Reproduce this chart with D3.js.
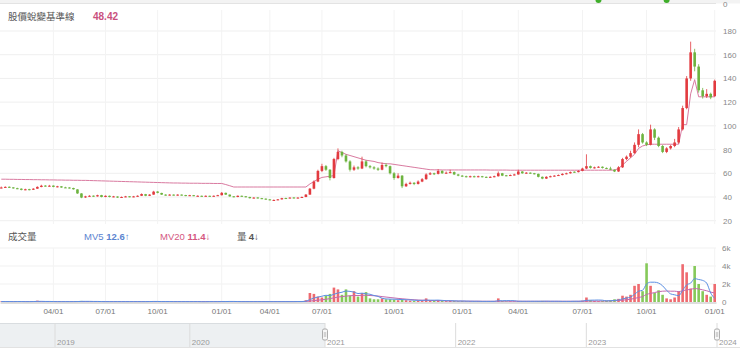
<!DOCTYPE html>
<html><head><meta charset="utf-8">
<script src="https://cdn.jsdelivr.net/npm/d3@7"></script>
<style>
html,body{margin:0;padding:0;background:#fff;}
svg{display:block;font-family:"Liberation Sans","Noto Sans CJK TC",Arial,sans-serif;}
</style></head><body>
<svg id="c" width="740" height="357"></svg>
<script>
const openP = [
47.5,48,48.6,48.1,47.4,47,46,46.6,46.1,47,
48.4,49.6,49,49.6,48.5,49,48.1,48,47.6,46.4,
43,39.6,40.4,41.1,40.5,41.6,40,41,40.1,40.4,
39.5,40,40.6,40,40.5,41,42.4,41,42,44.6,
43.4,42,41.5,42,41.4,42,41.6,41,41.5,40.8,
41,40.5,41,40.5,41,41.5,43.5,42,40.6,40,
41,40.6,40,39,39.6,39,38.6,38,37.4,37.5,
38,39.1,39,39.6,39,39.5,40,42,47,53,
62,66,63,56,72,78,75,70,63,65,
64,70,66,65,64,63,67,66,60,56,
58,49,51,52,51,53,55,59,60,59.5,
62,60,60.5,61,59,58,57.5,57,57.5,57,
57.5,57,56.5,57,57.5,60,58.3,58,58.5,59,
61.5,60,60.5,60,59.5,57,55.5,57,57.5,58,
58.5,59.5,60,61.3,61,62,64,66,64.5,65,
65.5,64.5,64,63,61.5,65,72,74,77,84,
93,86,84,97,90,83,78,81,83,86,
97,115,140,162,150,130,125,127,125];
const closeP = [
48,48.5,48,47.5,47,46,46.5,46,47,48.5,
49.5,49,49.5,48.5,49,48,48,47.5,46.5,43,
39.5,40.5,41,40.5,41.5,40,41,40,40.5,39.5,
40,40.5,40,40.5,41,42.5,41,42,44.5,43.5,
42,41.5,42,41.5,42,41.5,41,41.5,41,41,
40.5,41,40.5,41,41.5,43.5,42,40.5,40,41,
40.5,40,39,39.5,39,38.5,38,37.5,37.5,38,
39,39,39.5,39,39.5,40,42,47,53,62,
66,63,56,72,78,75,70,63,65,64,
70,66,65,64,63,67,66,60,56,58,
49,51,52,51,53,55,59,60,59.5,62,
60,60.5,61,59,58,57.5,57,57.5,57,57.5,
57,56.5,57,57.5,60,58,58,58.5,59,61.5,
60,60.5,60,59.5,57,55.5,57,57.5,58,58.5,
59.5,60,61,61,62,64,66,64.5,65,65.5,
64.5,64,63,61.5,65,72,74,77,84,93,
86,84,97,90,83,78,81,83,86,97,
115,140,162,150,130,125,127,124,138];
const highP = [
48.8,49,48.9,48.3,47.8,47.3,47,46.9,47.4,49,
50.3,50,50.2,49.8,49.4,49.2,48.6,48.3,47.8,46.6,
43.2,41,41.5,41.3,41.9,41.8,41.3,41.2,40.9,40.6,
40.4,40.9,40.8,40.9,41.4,43,42.6,42.4,45.2,44.9,
43.6,42.3,42.4,42.2,42.3,42.2,41.8,41.8,41.7,41.4,
41.2,41.3,41.1,41.3,41.8,44.2,43.7,42.1,40.8,41.3,
41.2,40.8,40.2,39.8,39.8,39.2,38.8,38.2,37.9,38.3,
39.3,39.4,39.8,39.8,39.8,40.4,42.5,47.6,54,63,
68,67,63.5,73,81,79,76,71,66.5,66,
74,71,67,66,65,69,68.5,66.5,61,60,
58.5,52,53,52.5,54,56,60,61,60.5,63.5,
62.5,61.5,63,61.5,59.5,58.5,58,58,58,58,
57.8,57.3,57.5,58,61.5,60.3,58.6,59,59.6,63,
61.8,61,60.8,60.3,59.7,57.3,57.5,58,58.4,59,
60,60.5,61.5,61.6,62.6,64.7,76,66.5,65.6,66,
65.8,64.9,65.5,63.3,66,73,75,79,86,97,
94,87,101,98,91,84,82,84,89,99,
117,142,171,165,152,132,131,128,139];
const lowP = [
47.2,47.6,47.6,47,46.6,45.6,45.7,45.6,45.9,46.8,
48.2,48.6,48.7,48.2,48.1,47.7,47.6,47.1,46.2,42.6,
39,39.2,40.1,40.1,40.3,39.7,39.8,39.7,39.8,39.2,
39.2,39.8,39.7,39.8,40.2,40.8,40.7,40.8,41.8,43.1,
41.7,41.1,41.2,41.2,41.1,41.2,40.7,40.8,40.7,40.6,
40.2,40.3,40.2,40.3,40.8,41.3,41.7,40.2,39.7,39.8,
40.2,39.7,38.7,38.8,38.7,38.2,37.7,37.2,37.1,37.3,
37.8,38.7,38.8,38.7,38.8,39.3,39.8,41.8,46.5,52.5,
61,62,54,55.5,71,73.5,69,61.5,62,63,
63.5,65,64,63,62,62.5,65,59,54.5,55.5,
47.5,48.5,50.5,50,50.5,52.5,54.5,58.5,58.5,59,
59.5,59.5,60,58.5,57.5,57,56.5,56.5,56.5,56.6,
56.5,56,56.1,56.6,57.2,57.6,57.5,57.7,58.1,58.8,
59.6,59.6,59.5,59,56.5,55,55.2,56.6,57.2,57.7,
58.2,59.1,59.7,60.4,60.7,61.7,63.5,64,64,64.6,
64,63.5,62.6,61,61.2,64.5,71,73,76.5,82,
85,83,83.5,88,82,77,77,80,82,85,
96,114,138,146,128,123,123.5,122.5,124.5];
const baseline = [
55,55,54.9,54.9,54.8,54.8,54.7,54.7,54.6,54.6,
54.5,54.5,54.4,54.4,54.3,54.3,54.2,54.2,54.1,54.1,
54,54,53.9,53.8,53.7,53.6,53.5,53.4,53.3,53.2,
53.1,53,52.9,52.8,52.7,52.6,52.5,52.4,52.3,52.2,
52.1,52,51.9,51.8,51.8,51.7,51.7,51.6,51.6,51.6,
51.5,51.5,51.5,51.4,51.4,51.4,50.5,49.5,48.42,48.42,
48.42,48.42,48.42,48.42,48.42,48.42,48.42,48.42,48.42,48.42,
48.42,48.42,48.42,48.42,48.42,48.42,48.42,51,53,55,
56.5,57,57.5,58,79,77.5,76,75,74,73,
72,71,70.5,70,69,68.5,68,68,67.5,67,
66.5,66,65.5,65,64.5,64,63.5,63,62.9,62.9,
62.8,62.8,62.8,62.8,62.8,62.8,62.8,62.8,62.8,62.8,
62.8,62.8,62.7,62.7,62.7,62.7,62.7,62.6,62.6,62.6,
62.6,62.6,62.6,62.6,62.6,62.6,62.6,62.6,62.6,62.6,
62.6,62.6,62.6,62.6,62.6,62.6,62.6,62.6,62.6,62.6,
62.6,62.6,62.6,62.7,64,67,70,73,76,81,
83,84,84.5,84.5,84.5,84.5,84.5,84.5,84.5,84.5,
101,101,127,139,124.5,124.5,124.5,124.5,124.5];
const volume = [
0.05,0.04,0.06,0.03,0.05,0.04,0.05,0.03,0.08,0.15,
0.06,0.04,0.05,0.03,0.04,0.05,0.03,0.04,0.05,0.1,
0.12,0.06,0.04,0.03,0.05,0.04,0.03,0.04,0.03,0.04,
0.03,0.04,0.03,0.04,0.05,0.06,0.04,0.05,0.08,0.05,
0.04,0.03,0.04,0.03,0.04,0.03,0.04,0.03,0.04,0.03,
0.03,0.04,0.03,0.04,0.05,0.09,0.06,0.05,0.04,0.04,
0.03,0.04,0.05,0.04,0.03,0.04,0.05,0.04,0.03,0.04,
0.05,0.04,0.05,0.04,0.06,0.08,0.2,1.0,0.9,0.6,
0.5,0.7,0.9,1.6,1.4,0.8,1.4,0.7,1.2,0.6,
1.0,1.1,0.4,0.3,0.3,0.4,0.3,0.3,0.25,0.2,
0.3,0.2,0.15,0.12,0.15,0.2,0.4,0.15,0.12,0.2,
0.12,0.1,0.15,0.1,0.08,0.1,0.07,0.08,0.07,0.08,
0.07,0.06,0.07,0.08,0.4,0.1,0.07,0.08,0.07,0.1,
0.08,0.07,0.06,0.07,0.1,0.12,0.08,0.07,0.06,0.07,
0.08,0.07,0.08,0.09,0.1,0.15,0.5,0.2,0.12,0.1,
0.12,0.15,0.2,0.3,0.35,0.7,0.6,0.8,1.8,2.0,
1.2,4.3,1.8,1.0,1.3,0.8,0.4,0.3,0.5,1.2,
4.2,3.3,1.5,4.0,2.0,1.2,0.8,0.6,2.0];
const mv5 = [
0.05,0.05,0.05,0.04,0.05,0.05,0.04,0.04,0.05,0.07,
0.07,0.06,0.06,0.05,0.04,0.04,0.04,0.04,0.04,0.05,
0.07,0.07,0.07,0.06,0.06,0.05,0.04,0.04,0.04,0.04,
0.04,0.04,0.04,0.04,0.04,0.04,0.04,0.05,0.06,0.06,
0.05,0.05,0.05,0.04,0.04,0.04,0.04,0.04,0.04,0.04,
0.03,0.03,0.04,0.04,0.04,0.05,0.05,0.06,0.06,0.05,
0.04,0.04,0.04,0.04,0.04,0.04,0.04,0.04,0.04,0.04,
0.04,0.04,0.04,0.04,0.05,0.05,0.09,0.27,0.44,0.55,
0.64,0.74,0.72,0.86,1.0,1.08,1.22,1.18,1.1,0.94,
0.98,0.92,0.86,0.72,0.62,0.42,0.34,0.32,0.31,0.29,
0.27,0.25,0.23,0.2,0.18,0.18,0.2,0.2,0.2,0.21,
0.18,0.15,0.14,0.13,0.11,0.11,0.1,0.09,0.08,0.08,
0.07,0.07,0.07,0.07,0.14,0.14,0.15,0.15,0.14,0.08,
0.08,0.08,0.08,0.08,0.08,0.08,0.09,0.08,0.08,0.08,
0.07,0.07,0.07,0.08,0.08,0.1,0.18,0.2,0.21,0.22,
0.2,0.13,0.14,0.18,0.22,0.35,0.44,0.55,0.85,1.2,
1.3,2.0,2.2,2.2,2.1,1.8,1.3,0.9,0.8,0.7,
1.3,1.9,2.1,2.6,2.5,2.4,2.1,1.0,0.4];
const mv20 = [
0.05,0.05,0.05,0.05,0.05,0.05,0.05,0.05,0.05,0.05,
0.05,0.05,0.05,0.05,0.05,0.05,0.05,0.05,0.05,0.05,
0.05,0.05,0.05,0.05,0.05,0.05,0.05,0.05,0.05,0.05,
0.05,0.05,0.05,0.05,0.05,0.05,0.05,0.05,0.05,0.05,
0.05,0.05,0.05,0.05,0.05,0.05,0.05,0.05,0.05,0.05,
0.05,0.05,0.05,0.05,0.05,0.05,0.05,0.05,0.05,0.05,
0.05,0.05,0.05,0.05,0.05,0.05,0.05,0.05,0.05,0.05,
0.05,0.05,0.05,0.05,0.05,0.05,0.06,0.1,0.15,0.2,
0.25,0.3,0.38,0.46,0.55,0.6,0.65,0.7,0.72,0.72,
0.74,0.75,0.72,0.7,0.66,0.6,0.55,0.5,0.45,0.4,
0.36,0.32,0.28,0.25,0.22,0.2,0.2,0.17,0.16,0.15,
0.14,0.13,0.12,0.11,0.1,0.1,0.09,0.09,0.09,0.09,
0.08,0.08,0.08,0.08,0.09,0.09,0.09,0.09,0.09,0.09,
0.08,0.08,0.08,0.08,0.08,0.08,0.08,0.08,0.08,0.08,
0.08,0.08,0.08,0.08,0.08,0.08,0.09,0.1,0.1,0.1,
0.1,0.11,0.12,0.14,0.16,0.2,0.25,0.3,0.4,0.5,
0.6,0.85,0.95,1.05,1.15,1.2,1.22,1.2,1.2,1.15,
1.25,1.35,1.4,1.5,1.45,1.35,1.25,1.1,1.0];
const tickIdx = [13,26,39,55,67,80,98,115,129,145,161,178];
const tickLabels = ["04/01","07/01","10/01","01/01","04/01","07/01","10/01","01/01","04/01","07/01","10/01","01/01"];
const priceTicks = [20,40,60,80,100,120,140,160,180];
const volTicks = [0,2,4,6];
const signalIdx = [149,166];
const navYears = [2019,2020,2021,2022,2023,2024];
const navSel = [2021,2024];

const UP="#e23a3f", DOWN="#6db33f";
const svg=d3.select("#c");
const N=closeP.length;
const x=d3.scaleBand().domain(d3.range(N)).range([0,716]).paddingInner(0.35);
const cx=i=>x(i)+x.bandwidth()/2;
const yP=d3.scaleLinear().domain([20,180]).range([220.7,31]);
const yV=d3.scaleLinear().domain([0,6]).range([302,248]);
const yT=d3.scaleLinear().domain([0,1]).range([3.5,-20]);

// top strip
svg.append("rect").attr("x",0).attr("y",0).attr("width",740).attr("height",3.5).attr("fill","#f3f3f3");
svg.append("line").attr("x1",0).attr("x2",716).attr("y1",yT(0)).attr("y2",yT(0)).attr("stroke","#e3e3e3");
svg.selectAll(".sig").data(signalIdx).join("circle").attr("cx",d=>cx(d)).attr("cy",yT(0.15)).attr("r",3).attr("fill","#3fae2a");
const ta=svg.append("g").attr("transform","translate(723,0)").call(d3.axisRight(yT).tickValues([0]).tickFormat(d3.format("d")).tickSize(0).tickPadding(0));
ta.select(".domain").remove();
ta.selectAll("text").attr("font-size",8).attr("fill","#888").attr("font-family","Liberation Sans");

// grids
svg.append("g").selectAll("line").data(priceTicks).join("line")
  .attr("x1",0).attr("x2",716).attr("y1",d=>yP(d)).attr("y2",d=>yP(d)).attr("stroke","#efefef");
svg.append("g").selectAll("line").data(tickIdx).join("line")
  .attr("x1",d=>cx(d)).attr("x2",d=>cx(d)).attr("y1",10).attr("y2",224).attr("stroke","#f3f3f3");
svg.append("g").selectAll("line").data(volTicks.slice(1)).join("line")
  .attr("x1",0).attr("x2",716).attr("y1",d=>yV(d)).attr("y2",d=>yV(d)).attr("stroke","#f1f1f1");
svg.append("g").selectAll("line").data(tickIdx).join("line")
  .attr("x1",d=>cx(d)).attr("x2",d=>cx(d)).attr("y1",yV(6)).attr("y2",yV(0)).attr("stroke","#f3f3f3");

// price axis
const pa=svg.append("g").attr("transform","translate(723,0)").call(d3.axisRight(yP).tickValues(priceTicks).tickSize(0).tickPadding(0));
pa.select(".domain").remove();
pa.selectAll("text").attr("font-size",8).attr("fill","#888").attr("font-family","Liberation Sans");

// baseline line
svg.append("path").datum(baseline).attr("fill","none").attr("stroke","#d97aa0").attr("stroke-width",1)
  .attr("d",d3.line().x((d,i)=>cx(i)).y(d=>yP(d)));

// candles
const cg=svg.append("g");
const idx=d3.range(N);
cg.selectAll("line").data(idx).join("line")
  .attr("x1",cx).attr("x2",cx).attr("y1",i=>yP(highP[i])).attr("y2",i=>yP(lowP[i]))
  .attr("stroke",i=>closeP[i]>=openP[i]?UP:DOWN).attr("stroke-width",0.8);
cg.selectAll("rect").data(idx).join("rect")
  .attr("x",i=>x(i)).attr("width",x.bandwidth())
  .attr("y",i=>yP(Math.max(openP[i],closeP[i])))
  .attr("height",i=>Math.max(1,Math.abs(yP(openP[i])-yP(closeP[i]))))
  .attr("fill",i=>closeP[i]>=openP[i]?UP:DOWN);

// volume
svg.append("g").selectAll("rect").data(idx).join("rect")
  .attr("x",i=>x(i)).attr("width",x.bandwidth())
  .attr("y",i=>yV(volume[i])).attr("height",i=>yV(0)-yV(volume[i]))
  .attr("fill",i=>closeP[i]>=openP[i]?"#ee6a6f":"#86c95a");
svg.append("path").datum(mv20).attr("fill","none").attr("stroke","#c46aae").attr("stroke-width",1)
  .attr("d",d3.line().x((d,i)=>cx(i)).y(d=>yV(d)).curve(d3.curveMonotoneX));
svg.append("path").datum(mv5).attr("fill","none").attr("stroke","#5b8fe3").attr("stroke-width",1)
  .attr("d",d3.line().x((d,i)=>cx(i)).y(d=>yV(d)).curve(d3.curveMonotoneX));
const va=svg.append("g").attr("transform","translate(722,0)").call(d3.axisRight(yV).tickValues(volTicks).tickSize(0).tickPadding(0).tickFormat(d=>d===0?"0":d+"k"));
va.select(".domain").remove();
va.selectAll("text").attr("font-size",8).attr("fill","#888").attr("font-family","Liberation Sans");

// x axis
const xa=svg.append("g").attr("transform",`translate(0,${yV(0)+0.5})`)
  .call(d3.axisBottom(x).tickValues(tickIdx).tickFormat((d,i)=>tickLabels[i]).tickSize(0).tickSizeOuter(0).tickPadding(6));
xa.select(".domain").attr("stroke","#bdbdbd");
xa.selectAll("text").attr("font-size",8).attr("fill","#777").attr("font-family","Liberation Sans");

// legends
const lg=svg.append("text").attr("x",8).attr("y",20).attr("font-size",9.5).attr("fill","#555");
lg.append("tspan").attr("font-family","Noto Sans CJK TC").text("股價蛻變基準線");
svg.append("text").attr("x",93).attr("y",20).attr("font-size",10).attr("fill","#c9507e").attr("font-weight","bold").text("48.42");

const vl=svg.append("g").attr("font-size",9.5);
vl.append("text").attr("x",8).attr("y",240).attr("fill","#555").attr("font-family","Noto Sans CJK TC").text("成交量");
const t1=vl.append("text").attr("x",84).attr("y",240).attr("fill","#5b84d0");
t1.append("tspan").text("MV5 ");t1.append("tspan").attr("font-weight","bold").text("12.6");t1.append("tspan").text("↑");
const t2=vl.append("text").attr("x",160).attr("y",240).attr("fill","#d4577f");
t2.append("tspan").text("MV20 ");t2.append("tspan").attr("font-weight","bold").text("11.4");t2.append("tspan").text("↓");
const t3=vl.append("text").attr("x",237).attr("y",240).attr("fill","#555");
t3.append("tspan").attr("font-family","Noto Sans CJK TC").text("量 ");t3.append("tspan").attr("font-weight","bold").text("4");t3.append("tspan").text("↓");

// navigator
const nx=d3.scaleTime().domain([new Date(2019,0,1),new Date(2021,0,1),new Date(2024,0,1)]).range([55,325,717]);
const ny0=323, ny1=347;
const selX0=nx(new Date(navSel[0],0,1)), selX1=nx(new Date(navSel[1],0,1));
svg.append("rect").attr("x",0).attr("y",ny0).attr("width",selX0).attr("height",ny1-ny0).attr("fill","#edf0f2");
svg.append("line").attr("x1",0).attr("x2",selX0).attr("y1",ny0+0.5).attr("y2",ny0+0.5).attr("stroke","#d9dde0");
svg.append("line").attr("x1",0).attr("x2",740).attr("y1",ny1+0.5).attr("y2",ny1+0.5).attr("stroke","#e2e2e2");
svg.append("g").selectAll("line").data(navYears).join("line")
  .attr("x1",d=>nx(new Date(d,0,1))).attr("x2",d=>nx(new Date(d,0,1))).attr("y1",ny0).attr("y2",ny1).attr("stroke","#dcdcdc");
svg.append("g").selectAll("text").data(navYears).join("text")
  .attr("x",d=>nx(new Date(d,0,1))+2).attr("y",ny1-2).attr("font-size",8).attr("fill","#999").text(d=>d);
[selX0,selX1].forEach(h=>{
  svg.append("rect").attr("x",h-2.5).attr("y",329).attr("width",5).attr("height",11).attr("rx",1.5)
    .attr("fill","#f7f7f7").attr("stroke","#9a9a9a").attr("stroke-width",0.8);
  svg.append("line").attr("x1",h-0.7).attr("x2",h-0.7).attr("y1",332).attr("y2",337).attr("stroke","#aaa").attr("stroke-width",0.6);
  svg.append("line").attr("x1",h+0.7).attr("x2",h+0.7).attr("y1",332).attr("y2",337).attr("stroke","#aaa").attr("stroke-width",0.6);
});
</script>
</body></html>
